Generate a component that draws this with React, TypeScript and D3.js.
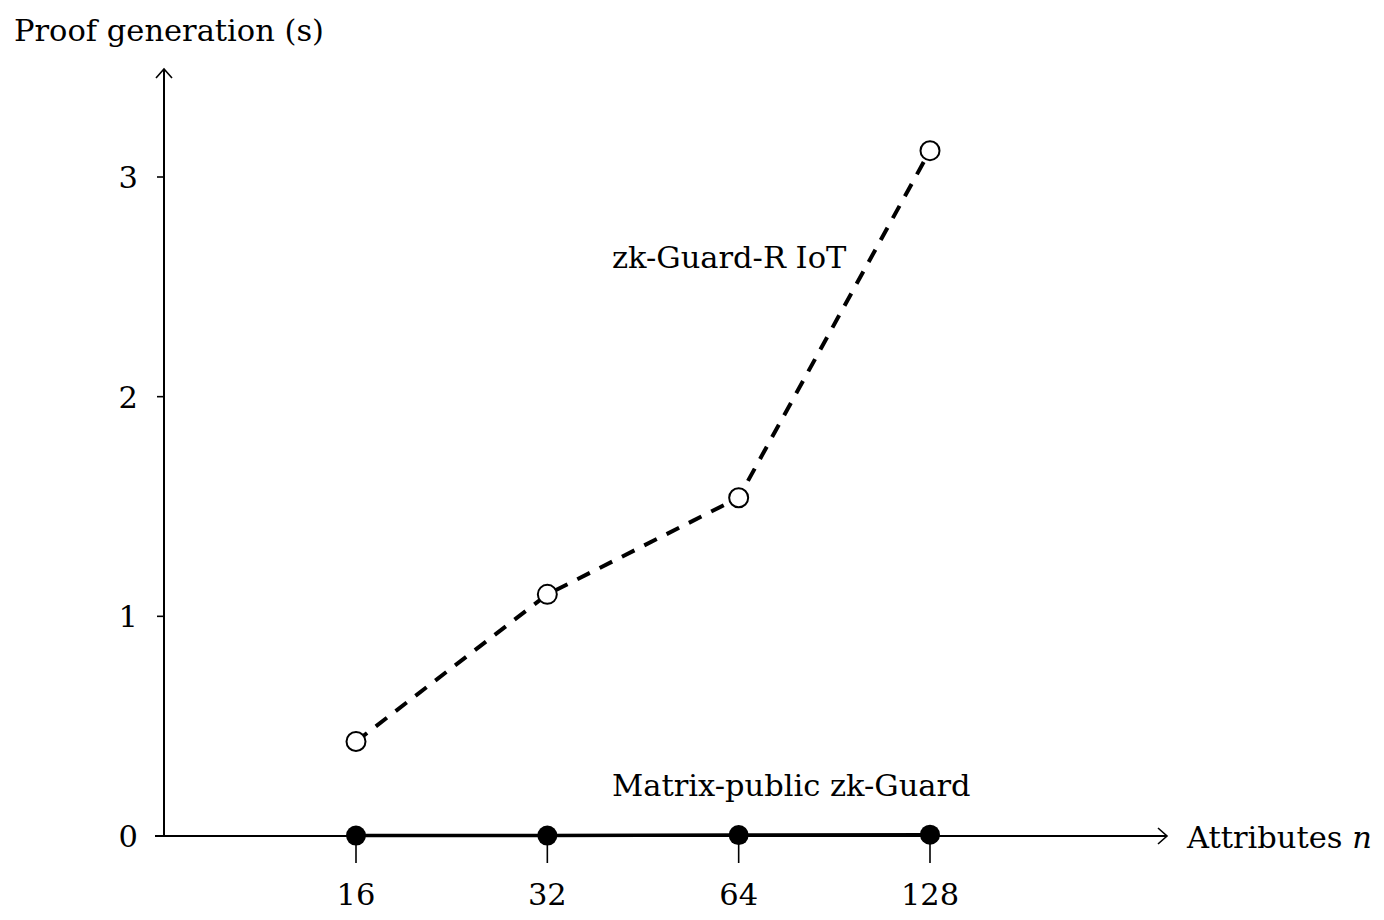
import * as d3 from 'd3';
import { useEffect, useRef } from 'react';

const attributes = ['16', '32', '64', '128'];
const zkGuardRIoT = [0.43, 1.1, 1.54, 3.12];
const matrixPublic = [0.002, 0.002, 0.004, 0.006];
const yTicks = [0, 1, 2, 3];

const FONT = '"DejaVu Serif", serif';
const FS = 30.5;

export default function App() {
  const ref = useRef<SVGSVGElement>(null);

  useEffect(() => {
    if (!ref.current) return;
    const svg = d3.select(ref.current);
    svg.selectAll('*').remove();

    const x = d3.scalePoint<string>().domain(attributes).range([356, 930]);
    const y = d3.scaleLinear().domain([0, 3]).range([836, 177]);
    const x0 = 164;

    // axes
    svg.append('line')
      .attr('x1', 155).attr('x2', 1166)
      .attr('y1', y(0)).attr('y2', y(0))
      .attr('stroke', '#000').attr('stroke-width', 2);
    svg.append('path')
      .attr('d', `M${1158},${y(0) - 8} L${1167},${y(0)} L${1158},${y(0) + 8}`)
      .attr('fill', 'none').attr('stroke', '#000').attr('stroke-width', 1.6);
    svg.append('line')
      .attr('x1', x0).attr('x2', x0)
      .attr('y1', y(0)).attr('y2', 70)
      .attr('stroke', '#000').attr('stroke-width', 2);
    svg.append('path')
      .attr('d', `M${x0 - 8},${78} L${x0},${69} L${x0 + 8},${78}`)
      .attr('fill', 'none').attr('stroke', '#000').attr('stroke-width', 1.6);

    // y ticks
    const yt = svg.append('g');
    yTicks.forEach(t => {
      yt.append('line')
        .attr('x1', x0 - 7).attr('x2', x0)
        .attr('y1', y(t)).attr('y2', y(t))
        .attr('stroke', '#000').attr('stroke-width', 1.6);
      yt.append('text')
        .attr('x', 138).attr('y', y(t) + 11)
        .attr('text-anchor', 'end')
        .attr('font-family', FONT).attr('font-size', FS)
        .text(t);
    });

    // x ticks
    const xt = svg.append('g');
    attributes.forEach(a => {
      xt.append('line')
        .attr('x1', x(a)!).attr('x2', x(a)!)
        .attr('y1', y(0)).attr('y2', y(0) + 27)
        .attr('stroke', '#000').attr('stroke-width', 1.6);
      xt.append('text')
        .attr('x', x(a)!).attr('y', 905)
        .attr('text-anchor', 'middle')
        .attr('font-family', FONT).attr('font-size', FS)
        .text(a);
    });

    // axis titles
    svg.append('text')
      .attr('x', 14).attr('y', 41)
      .attr('font-family', FONT).attr('font-size', FS)
      .text('Proof generation (s)');
    const xl = svg.append('text')
      .attr('x', 1187).attr('y', 848)
      .attr('font-family', FONT).attr('font-size', FS);
    xl.append('tspan').text('Attributes ');
    xl.append('tspan').attr('font-style', 'italic').text('n');

    const line = d3.line<number>()
      .x((_, i) => x(attributes[i])!)
      .y(d => y(d));

    // Matrix-public zk-Guard
    svg.append('path')
      .datum(matrixPublic)
      .attr('d', line)
      .attr('fill', 'none').attr('stroke', '#000').attr('stroke-width', 3.5);
    svg.selectAll('.mp')
      .data(matrixPublic)
      .join('circle')
      .attr('cx', (_, i) => x(attributes[i])!)
      .attr('cy', d => y(d))
      .attr('r', 10)
      .attr('fill', '#000');

    // zk-Guard-R IoT
    svg.append('path')
      .datum(zkGuardRIoT)
      .attr('d', line)
      .attr('fill', 'none').attr('stroke', '#000').attr('stroke-width', 4)
      .attr('stroke-dasharray', '14 11');
    svg.selectAll('.zk')
      .data(zkGuardRIoT)
      .join('circle')
      .attr('cx', (_, i) => x(attributes[i])!)
      .attr('cy', d => y(d))
      .attr('r', 9.5)
      .attr('fill', '#fff')
      .attr('stroke', '#000').attr('stroke-width', 2);

    // series labels
    svg.append('text')
      .attr('x', 612).attr('y', 268)
      .attr('font-family', FONT).attr('font-size', FS)
      .text('zk-Guard-R IoT');
    svg.append('text')
      .attr('x', 612).attr('y', 796)
      .attr('font-family', FONT).attr('font-size', FS)
      .text('Matrix-public zk-Guard');
  }, []);

  return (
    <svg
      ref={ref}
      width={1384}
      height={920}
      style={{ position: 'absolute', left: 0, top: 0, background: '#fff' }}
    />
  );
}
